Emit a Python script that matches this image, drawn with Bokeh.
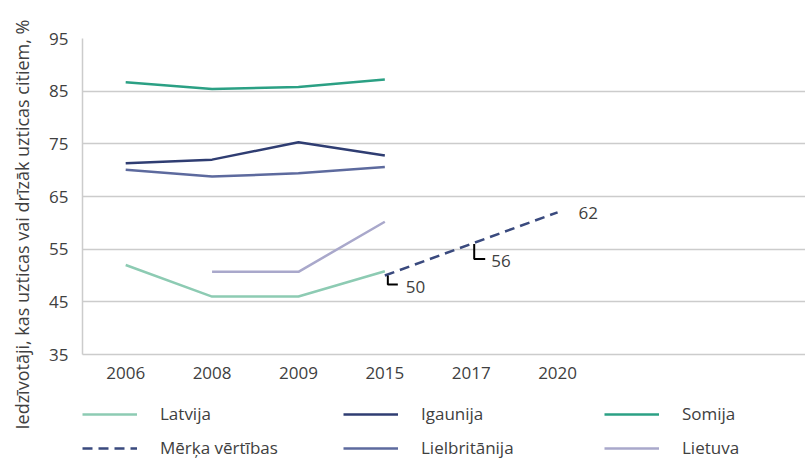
import math
from bokeh.plotting import figure
from bokeh.layouts import row, column
from bokeh.models import (Range1d, FixedTicker, Legend, LegendItem, ColumnDataSource)
from bokeh.core.properties import value
from bokeh.embed import file_html
from bokeh.resources import INLINE

# ---- data ----
years = ["2006", "2008", "2009", "2015", "2017", "2020"]
latvija = [52.0, 46.0, 46.0, 50.8]            # 2006-2015
lietuva_years = ["2008", "2009", "2015"]
lietuva = [50.7, 50.7, 60.2]
somija = [86.7, 85.4, 85.8, 87.2]
igaunija = [71.3, 72.0, 75.3, 72.8]
lielbritanija = [70.1, 68.8, 69.4, 70.6]
target_years = ["2015", "2017", "2020"]
target = [50, 56, 62]
y_ticks = [35, 45, 55, 65, 75, 85, 95]
ylabel = "Iedzīvotāji, kas uzticas vai drīzāk uzticas citiem, %"

series = [  # (legend label, colour, dash)
    ("Latvija", "#8DCBB3", "solid"),
    ("Igaunija", "#2F3D72", "solid"),
    ("Somija", "#2BA084", "solid"),
    ("Mērķa vērtības", "#3A4A7E", "10 6"),
    ("Lielbritānija", "#5D6A9E", "solid"),
    ("Lietuva", "#A9A8CB", "solid"),
]

FONT = "Open Sans"
TXT = "#404040"
GRID = "#cccccc"
FS = "17px"
H = 459
WT = 805
LW = 40     # width of the y-label strip
HP = 392    # height of the chart part
W = 2.5

def idx(ys):
    return [years.index(y) for y in ys]

# ---- y-axis title strip ----
lab = figure(width=LW, height=H, output_backend="svg", toolbar_location=None,
             x_range=Range1d(0, LW), y_range=Range1d(0, H),
             min_border=0, x_axis_type=None, y_axis_type=None)
lab.outline_line_color = None
lab.xgrid.grid_line_color = None
lab.ygrid.grid_line_color = None
lab.text(x=[21], y=[H - 224], text=[ylabel], angle=math.pi / 2,
         text_font=value(FONT), text_font_size="18px", text_color=TXT,
         text_align="center", text_baseline="middle")

# ---- main chart ----
p = figure(width=WT - LW, height=HP, output_backend="svg", toolbar_location=None,
           x_range=Range1d(-0.5, 7.87), y_range=Range1d(35, 95),
           min_border_left=82 - LW - 3, min_border_right=0, min_border_top=38,
           min_border_bottom=HP - 354)
p.outline_line_color = None
p.xgrid.grid_line_color = None
p.ygrid.grid_line_color = GRID
p.ygrid.grid_line_width = 1.5
p.ygrid.ticker = FixedTicker(ticks=y_ticks)

p.yaxis.ticker = FixedTicker(ticks=y_ticks)
p.yaxis.axis_line_color = GRID
p.yaxis.axis_line_width = 1.5
p.yaxis.major_tick_line_color = None
p.yaxis.minor_tick_line_color = None
p.yaxis.major_tick_out = 0
p.yaxis.major_label_standoff = 14
p.yaxis.major_label_text_font = FONT
p.yaxis.major_label_text_font_size = FS
p.yaxis.major_label_text_color = TXT

p.xaxis.ticker = FixedTicker(ticks=list(range(len(years))))
p.xaxis.major_label_overrides = {i: y for i, y in enumerate(years)}
p.xaxis.axis_line_color = GRID
p.xaxis.axis_line_width = 1.5
p.xaxis.major_tick_line_color = None
p.xaxis.minor_tick_line_color = None
p.xaxis.major_tick_out = 0
p.xaxis.major_label_standoff = 12
p.xaxis.major_label_text_font = FONT
p.xaxis.major_label_text_font_size = FS
p.xaxis.major_label_text_color = TXT

col = {s[0]: s[1] for s in series}
p.line(idx(years[:4]), latvija, line_color=col["Latvija"], line_width=W)
p.line(idx(years[:4]), igaunija, line_color=col["Igaunija"], line_width=W)
p.line(idx(years[:4]), somija, line_color=col["Somija"], line_width=W)
p.line(idx(target_years), target, line_color=col["Mērķa vērtības"], line_width=W, line_dash="10 6")
p.line(idx(years[:4]), lielbritanija, line_color=col["Lielbritānija"], line_width=W)
p.line(idx(lietuva_years), lietuva, line_color=col["Lietuva"], line_width=W)

# data labels for target values
PXX, PXY = 86.4, 5.27  # px per data unit (x, y), used for leader offsets
tx = idx(target_years)
src = ColumnDataSource(dict(x=tx, y=target, t=[str(v) for v in target],
                            dx=[21, 20, 21], dy=[11, 17, 1]))
p.text(x="x", y="y", text="t", source=src, x_offset="dx", y_offset="dy",
       text_font=value(FONT), text_font_size=FS, text_color=TXT,
       text_align="left", text_baseline="middle")

# leader lines (50 and 56)
lead_down = [9, 15]
lead_right = [13, 14]
xs, ys = [], []
for i in range(2):
    x0 = tx[i] + 3 / PXX
    y0 = target[i]
    y1 = target[i] - lead_down[i] / PXY
    x1 = tx[i] + lead_right[i] / PXX
    xs.append([x0, x0, x1])
    ys.append([y0, y1, y1])
p.multi_line(xs, ys, line_color="black", line_width=2)

# ---- legend strip ----
lg = figure(width=WT - LW, height=H - HP, output_backend="svg", toolbar_location=None,
            x_range=Range1d(0, 1), y_range=Range1d(0, 1),
            min_border=0, min_border_left=82 - LW, x_axis_type=None, y_axis_type=None)
lg.outline_line_color = None
lg.xgrid.grid_line_color = None
lg.ygrid.grid_line_color = None
items = []
for name, c, dash in series:
    # legend swatch renderers (kept outside the visible range of this strip)
    r = lg.line([5, 6], [5, 6], line_color=c, line_width=W, line_dash=dash)
    items.append(LegendItem(label=name, renderers=[r]))
legend = Legend(items=items, orientation="horizontal", ncols=3, location="bottom_left",
                margin=0, padding=0, spacing=11, glyph_width=55, glyph_height=18,
                label_height=18, label_width=172, label_standoff=23,
                label_text_font=FONT, label_text_font_size=FS, label_text_color=TXT,
                border_line_color=None, background_fill_alpha=0)
lg.add_layout(legend, "center")

layout = row(lab, column(p, lg, spacing=0), spacing=0)
open("out.html", "w").write(file_html(layout, INLINE))
